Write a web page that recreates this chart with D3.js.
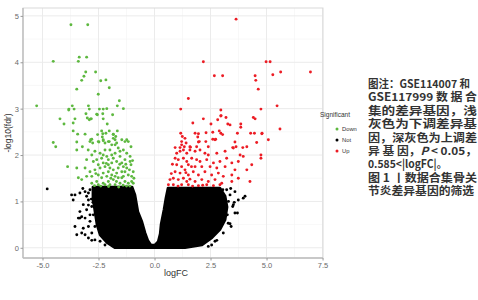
<!DOCTYPE html>
<html><head><meta charset="utf-8">
<script src="https://cdn.jsdelivr.net/npm/d3@7"></script>
<style>
html,body{margin:0;padding:0;background:#fff;}
svg{display:block;}
</style>
</head><body>
<svg id="chart" width="478" height="300"></svg>
<script>
// ---------- data ----------
const categories = ["Down", "Not", "Up"];
const categoryColors = ["#5db83f", "#000000", "#ec1c24"];
const xTicks = [-5, -2.5, 0, 2.5, 5, 7.5];
const xTickLabels = ["-5.0", "-2.5", "0.0", "2.5", "5.0", "7.5"];
const yTicks = [0, 1, 2, 3, 4, 5];
const yTickLabels = ["0", "1", "2", "3", "4", "5"];
const xMinor = [-3.75, -1.25, 1.25, 3.75, 6.25];
const yMinor = [0.5, 1.5, 2.5, 3.5, 4.5];

// [logFC, -log10(fdr)]
const downPoints = [
[-3.73,4.81],[-2.98,4.81],[-4.52,4.02],[-3.36,4.11],[-3.03,4.11],[-3.40,4.02],[-3.07,3.79],[-2.63,3.79],
[-3.15,3.70],[-3.25,3.61],[-2.40,3.60],[-2.17,3.62],[-2.02,3.45],[-3.47,3.42],[-2.51,3.31],[-5.26,3.06],
[-3.67,3.06],[-3.82,2.99],[-3.59,2.99],[-2.95,3.06],[-2.91,2.99],[-2.46,2.99],[-2.29,2.99],[-2.13,3.00],
[-1.57,3.17],[-1.66,3.06],[-1.39,3.00],[-4.22,2.78],[-4.04,2.67],[-3.55,2.78],[-3.63,2.69],[-3.06,2.89],
[-3.00,2.80],[-2.85,2.78],[-2.58,2.88],[-2.55,2.87],[-2.31,2.89],[-2.29,2.78],[-1.87,2.87],[-2.11,2.67],
[-3.63,2.52],[-3.43,2.45],[-3.10,2.45],[-2.54,2.44],[-2.36,2.52],[-2.17,2.47],[-2.02,2.52],[-1.84,2.45],
[-1.66,2.52],[-4.52,2.27],[-4.41,2.18],[-3.47,2.28],[-3.22,2.18],[-2.85,2.33],[-2.76,2.26],[-2.48,2.28],
[-2.29,2.31],[-2.02,2.29],[-1.84,2.36],[-1.76,2.22],[-1.46,2.33],[-1.24,2.33],[-1.05,2.18],
[-3.83,2.97],[-2.91,2.76],[-2.82,2.78],[-2.31,2.46],[-1.84,2.44],[-1.73,2.40],[-2.80,2.34],[-2.33,2.39],
[-3.47,2.11],[-2.88,2.29],[-2.96,2.11],[-2.51,2.29],[-2.29,2.33],[-2.21,2.26],[-2.06,2.29],[-1.91,2.22],
[-1.76,2.33],[-1.69,2.26],[-1.32,2.29],[-1.17,2.29],[-1.62,2.15],[-1.99,2.11],[-2.21,2.11],[-2.43,2.04],
[-2.66,2.08],[-2.80,2.00],[-3.03,1.90],[-3.10,1.72],[-3.47,1.72],[-3.88,1.75],[-2.73,1.86],[-2.58,1.90],
[-2.36,1.93],[-2.13,1.97],[-1.91,2.00],[-1.76,2.04],[-1.54,2.08],[-1.39,2.11],[-1.24,2.04],[-1.09,1.97],
[-1.32,1.90],[-1.46,1.83],[-1.69,1.86],[-1.91,1.83],[-2.06,1.79],[-2.21,1.75],[-2.43,1.72],[-2.66,1.68],
[-2.88,1.64],[-3.03,1.54],[-3.25,1.47],[-3.40,1.51],[-2.80,1.54],[-2.51,1.57],[-2.29,1.61],[-2.06,1.64],
[-1.84,1.68],[-1.62,1.72],[-1.39,1.75],[-1.24,1.72],[-1.05,1.79],[-0.95,1.64],[-1.17,1.57],[-1.39,1.54],
[-1.62,1.51],[-1.84,1.47],[-2.06,1.43],[-2.29,1.39],[-2.58,1.43],[-2.80,1.39],[-2.36,1.51],[-2.13,1.54],
[-1.91,1.57],[-1.69,1.61],[-1.46,1.64],[-1.02,1.54],[-1.32,1.43],[-1.54,1.39],[-1.76,1.36],[-1.99,1.36],
[-2.21,1.36],[-2.51,1.36],[-1.17,1.39],[-1.02,1.43],[-0.95,1.39],[-1.46,1.51],[-1.76,1.54],[-1.99,1.72],
[-2.29,1.83],[-2.51,1.79],[-1.09,1.86],[-1.54,1.97],[-2.06,1.90],[-1.32,1.64],[-2.29,2.00],[-1.84,1.93],
[-0.92,1.50],[-1.12,1.68],[-1.25,1.33],[-1.60,1.31],[-2.05,1.32],[-2.40,1.33],[-2.68,1.34],[-1.40,1.35],
[-1.10,1.33],[-0.98,1.88],[-1.55,1.80],[-2.15,1.82],[-2.62,1.60],[-1.95,1.50],[-1.28,1.80],[-1.70,1.43]
];

const upPoints = [
[3.64,4.93],[2.18,4.01],[4.98,4.01],[5.16,4.01],[2.67,3.71],[3.04,3.71],[4.49,3.71],[4.52,3.61],
[5.28,3.73],[5.63,3.79],[6.96,3.79],[4.63,3.42],[1.51,3.22],[1.17,2.99],[2.96,2.97],[4.75,2.99],
[5.47,3.06],[2.18,2.78],[2.96,2.84],[3.19,2.81],[2.82,2.76],[4.41,2.81],[4.49,2.78],[1.71,2.69],
[2.52,2.67],[3.27,2.67],[3.37,2.65],[3.85,2.67],[3.85,2.60],[5.60,2.56],[1.17,2.47],[1.81,2.47],
[2.30,2.48],[2.60,2.49],[2.89,2.52],[2.96,2.47],[3.04,2.44],[3.70,2.47],[4.29,2.47],[4.46,2.47],
[4.80,2.47],[1.24,2.40],[1.93,2.39],[2.60,2.34],[2.73,2.34],[5.08,2.33],[1.21,2.29],[1.41,2.26],
[2.00,2.29],[2.29,2.29],[3.59,2.28],[4.56,2.27],[0.92,2.16],[1.14,2.16],[1.33,2.18],[1.58,2.18],
[1.88,2.18],[2.40,2.18],[3.49,2.16],[3.64,2.18],[3.94,2.16],[4.12,2.18],
[0.99,2.04],[1.14,2.08],[1.29,2.11],[1.44,2.04],[1.58,2.11],[1.81,2.08],[2.03,2.11],[2.25,2.04],
[2.40,2.00],[2.78,2.04],[3.15,2.08],[3.52,2.15],[3.82,2.00],[3.96,1.97],[4.34,1.79],[4.75,2.00],
[4.75,1.93],[0.92,1.93],[1.06,1.90],[1.29,1.93],[1.44,1.86],[1.66,1.93],[1.88,1.90],[2.03,1.86],
[2.33,1.90],[2.63,1.83],[2.92,1.86],[3.22,1.93],[3.45,1.83],[3.74,1.86],[0.99,1.79],[1.21,1.75],
[1.51,1.79],[1.81,1.75],[2.11,1.75],[2.48,1.75],[2.78,1.72],[3.15,1.75],[3.59,1.68],[4.12,1.68],
[0.92,1.64],[1.14,1.61],[1.36,1.68],[1.51,1.57],[1.73,1.64],[1.96,1.57],[2.25,1.64],[2.55,1.57],
[2.85,1.61],[3.07,1.54],[3.45,1.57],[3.74,1.50],[4.26,1.43],[0.69,1.47],[0.84,1.50],[1.06,1.47],
[1.29,1.50],[1.44,1.43],[1.58,1.48],[1.81,1.43],[2.11,1.47],[2.40,1.43],[2.70,1.47],[3.00,1.39],
[3.45,1.43],[0.62,1.36],[0.84,1.36],[1.21,1.36],[1.51,1.36],[1.96,1.34],[2.33,1.36],[2.63,1.34],
[2.92,1.36],[1.21,2.22],[2.97,2.85],[4.79,2.46],[1.36,2.36],[1.60,2.17],[1.96,2.28],[2.70,2.33],
[1.96,2.46],[0.75,1.60],[0.80,1.80],[1.05,1.33],[1.70,1.33],[2.15,1.35],[1.40,1.62],[1.65,1.75]
];

// sparse "Not" points outside the dense core
const notPoints = [
[-4.79,1.27],[-3.55,1.14],[-3.63,1.03],[-3.33,1.18],[-3.10,1.21],[-2.95,1.03],[-3.18,0.93],[-3.03,0.82],
[-3.33,0.78],[-3.25,0.67],[-3.40,0.64],[-3.10,0.64],[-3.55,0.46],[-3.47,0.28],[-3.18,0.42],[-2.95,0.46],
[-3.10,0.28],[-2.80,0.32],[-2.66,0.17],[-2.43,0.14],[-2.21,0.06],[-2.88,0.57],[-2.73,1.14],[-2.88,1.25],
[-3.03,1.11],[-2.80,0.89],[-2.73,0.71],[-2.88,0.71],[-2.66,0.46],[-3.70,1.14],[-3.33,0.64],[-3.25,0.32],
[-2.95,0.21],[-2.80,0.16],[-2.95,1.18],[-3.20,1.28],[-2.82,1.05],[-2.75,0.98],[-2.95,0.92],
[3.37,1.14],[3.52,0.93],[3.59,0.75],[3.29,0.53],[3.07,0.32],[2.70,0.14],[2.40,0.03],[3.74,1.03],
[3.96,1.07],[4.04,1.11],[3.59,1.21],[3.22,1.25],[3.42,0.46],[2.55,0.06],[2.78,0.16],[3.37,0.52],
[3.49,0.89],[3.25,0.71],[3.70,0.75],[3.56,0.98],[3.30,1.00],[3.05,1.25],[3.40,1.28]
];

// outline of the dense "Not" cloud (logFC, -log10 fdr)
const notCoreOutline = [
[-2.75,1.31],[-1.00,1.31],[-0.87,1.14],[-0.74,0.78],[-0.56,0.56],[-0.42,0.32],[-0.29,0.15],[-0.16,0.06],
[0.02,0.06],[0.16,0.13],[0.25,0.30],[0.29,0.50],[0.42,0.82],[0.51,1.08],[0.60,1.29],[2.92,1.29],
[3.15,1.12],[3.24,0.88],[3.15,0.60],[2.92,0.39],[2.57,0.22],[2.12,0.06],[1.36,0.00],[-1.76,0.00],
[-2.12,0.11],[-2.43,0.28],[-2.57,0.50],[-2.66,0.78],[-2.75,1.08]
];

const captionLines = [
  {t:"图注：GSE114007 和", w:102},
  {t:"GSE117999 数 据 合", w:109},
  {t:"集的差异基因，浅", w:109},
  {t:"灰色为下调差异基", w:109},
  {t:"因，深灰色为上调差", w:109},
  {t:"异 基 因，P < 0.05，", w:109},
  {t:"0.585<|logFC|。", w:79},
  {t:"图 1 丨数据合集骨关", w:109},
  {t:"节炎差异基因的筛选", w:106}
];

// ---------- drawing ----------
const svg = d3.select("#chart");
const W = 478, H = 300;
const plot = {left: 23, right: 323, top: 8, bottom: 258};

const x = d3.scaleLinear().domain([-5.87, 7.52]).range([plot.left, plot.right]);
const y = d3.scaleLinear().domain([-0.22, 5.17]).range([plot.bottom, plot.top]);

svg.append("rect").attr("width", W).attr("height", H).attr("fill", "#fff");

const g = svg.append("g");
// grid
g.selectAll(".xminor").data(xMinor).join("line")
  .attr("x1", d => x(d)).attr("x2", d => x(d)).attr("y1", plot.top).attr("y2", plot.bottom)
  .attr("stroke", "#f4f4f4").attr("stroke-width", 0.6);
g.selectAll(".yminor").data(yMinor).join("line")
  .attr("y1", d => y(d)).attr("y2", d => y(d)).attr("x1", plot.left).attr("x2", plot.right)
  .attr("stroke", "#f4f4f4").attr("stroke-width", 0.6);
g.selectAll(".xmajor").data(xTicks).join("line")
  .attr("x1", d => x(d)).attr("x2", d => x(d)).attr("y1", plot.top).attr("y2", plot.bottom)
  .attr("stroke", "#ebebeb").attr("stroke-width", 1);
g.selectAll(".ymajor").data(yTicks).join("line")
  .attr("y1", d => y(d)).attr("y2", d => y(d)).attr("x1", plot.left).attr("x2", plot.right)
  .attr("stroke", "#ebebeb").attr("stroke-width", 1);

// dense core
const coreLine = d3.line().x(d => x(d[0])).y(d => y(d[1])).curve(d3.curveLinearClosed);
g.append("path").attr("d", coreLine(notCoreOutline))
  .attr("fill", "#000").attr("stroke", "#000").attr("stroke-width", 2.6).attr("stroke-linejoin", "round");

const r = 1.45;
g.selectAll(".notp").data(notPoints).join("circle")
  .attr("cx", d => x(d[0])).attr("cy", d => y(d[1])).attr("r", r).attr("fill", categoryColors[1]);
g.selectAll(".downp").data(downPoints).join("circle")
  .attr("cx", d => x(d[0])).attr("cy", d => y(d[1])).attr("r", r).attr("fill", categoryColors[0]);
g.selectAll(".upp").data(upPoints).join("circle")
  .attr("cx", d => x(d[0])).attr("cy", d => y(d[1])).attr("r", r).attr("fill", categoryColors[2]);

// panel border
svg.append("rect").attr("x", plot.left).attr("y", plot.top)
  .attr("width", plot.right - plot.left).attr("height", plot.bottom - plot.top)
  .attr("fill", "none").attr("stroke", "#d9d9d9").attr("stroke-width", 1);
svg.append("line").attr("x1", plot.left).attr("x2", plot.left).attr("y1", plot.top).attr("y2", plot.bottom)
  .attr("stroke", "#bdbdbd").attr("stroke-width", 1.4);
svg.append("line").attr("x1", plot.left).attr("x2", plot.right).attr("y1", plot.bottom).attr("y2", plot.bottom)
  .attr("stroke", "#bdbdbd").attr("stroke-width", 1.4);

// axes
const xAxis = d3.axisBottom(x).tickValues(xTicks).tickFormat((d, i) => xTickLabels[i]).tickSize(2.5).tickPadding(2);
const yAxis = d3.axisLeft(y).tickValues(yTicks).tickFormat((d, i) => yTickLabels[i]).tickSize(2.5).tickPadding(1.5);
const gx = svg.append("g").attr("transform", `translate(0,${plot.bottom})`).call(xAxis);
const gy = svg.append("g").attr("transform", `translate(${plot.left},0)`).call(yAxis);
[gx, gy].forEach(a => {
  a.select(".domain").remove();
  a.selectAll(".tick line").attr("stroke", "#999");
  a.selectAll(".tick text").attr("fill", "#6a6a6a").attr("font-size", "7.5px")
    .attr("font-family", "Liberation Sans, Arial, sans-serif");
});

svg.append("text").attr("x", (plot.left + plot.right) / 2 + 3).attr("y", 276)
  .attr("text-anchor", "middle").attr("font-size", "9px").attr("fill", "#333")
  .attr("font-family", "Liberation Sans, Arial, sans-serif").text("logFC");
svg.append("text").attr("transform", `translate(11,${(plot.top + plot.bottom) / 2}) rotate(-90)`)
  .attr("text-anchor", "middle").attr("font-size", "8.5px").attr("fill", "#333")
  .attr("font-family", "Liberation Sans, Arial, sans-serif").text("-log10(fdr)");

// legend
const leg = svg.append("g").attr("font-family", "Liberation Sans, Arial, sans-serif");
leg.append("text").attr("x", 320).attr("y", 117).attr("font-size", "6.5px").attr("fill", "#333").text("Significant");
const items = leg.selectAll(".item").data(categories).join("g")
  .attr("transform", (d, i) => `translate(337,${129 + i * 11})`);
items.append("circle").attr("r", 1.5).attr("fill", (d, i) => categoryColors[i]);
items.append("text").attr("x", 5).attr("y", 2).attr("font-size", "5.8px").attr("fill", "#333").text(d => d);

// caption
const cap = svg.append("g").attr("font-family", "Noto Sans CJK SC, sans-serif")
  .attr("font-size", "11px").attr("font-weight", "bold").attr("fill", "#333");
captionLines.forEach((ln, i) => {
  const t = cap.append("text").attr("x", 368).attr("y", 88 + i * 13.4)
    .attr("textLength", ln.w).attr("lengthAdjust", "spacingAndGlyphs");
  if (ln.t.indexOf("P <") >= 0) {
    const parts = ln.t.split("P");
    t.append("tspan").text(parts[0]);
    t.append("tspan").attr("font-style", "italic").text("P");
    t.append("tspan").text(parts[1]);
  } else {
    t.text(ln.t);
  }
});
</script>
</body></html>
